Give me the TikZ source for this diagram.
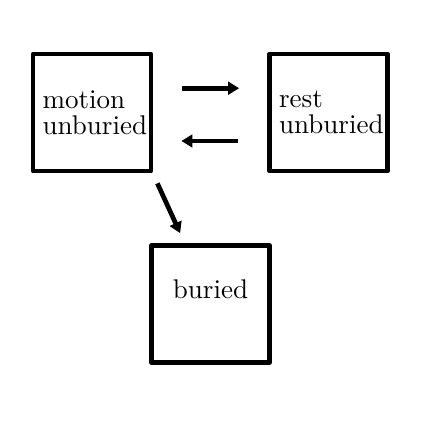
\documentclass[tikz,border=0pt]{standalone}
\usetikzlibrary{arrows.meta,calc}
\begin{document}
\begin{tikzpicture}[x=0.3846pt,y=-0.3846pt,
  statebox/.style={draw=black, line width=1.8pt, line join=round, minimum width=45.4pt, minimum height=45pt, inner sep=0pt, align=left, font=\fontsize{10.4}{10.1}\selectfont},
  conn/.style={line width=1.8pt, -{Triangle[length=4.2pt,width=4.8pt]}}]
\useasboundingbox (0,0) rectangle (427,427);
\node[statebox] (motion) at (92,112.5) {\hspace*{2.2pt}motion\\\hspace*{2.2pt}unburied};
\node[statebox] (rest) at (328.5,112.5) {\hspace*{2.2pt}rest\\\hspace*{2.2pt}unburied};
\node[statebox, text height=7.2pt, text depth=11.8pt] (buried) at (210.5,304) {buried};
\draw[conn] ($(motion.east)+(29,-24.3)$) -- ($(rest.west)+(-28,-24.3)$);
\draw[conn] ($(rest.west)+(-29,28.5)$) -- ($(motion.east)+(28,28.5)$);
\draw[conn] ($(motion.south east)+(4,10)$) -- ($(buried.north west)+(31,-10)$);
\end{tikzpicture}
\end{document}
